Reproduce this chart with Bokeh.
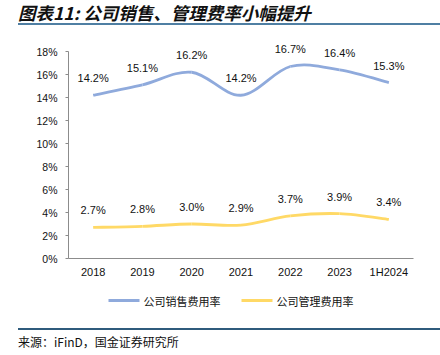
from bokeh.plotting import figure
from bokeh.layouts import column
from bokeh.models import (ColumnDataSource, LabelSet, Div,
                          FixedTicker, Range1d, CustomJSTickFormatter)
from bokeh.core.properties import value
from bokeh.embed import file_html
from bokeh.resources import INLINE

categories = ["2018", "2019", "2020", "2021", "2022", "2023", "1H2024"]
sales_rate = [14.2, 15.1, 16.2, 14.2, 16.7, 16.4, 15.3]
admin_rate = [2.7, 2.8, 3.0, 2.9, 3.7, 3.9, 3.4]
y_ticks = [0, 2, 4, 6, 8, 10, 12, 14, 16, 18]

title_text = "图表11: 公司销售、管理费率小幅提升"
source_text = "来源：iFinD，国金证券研究所"
sales_name = "公司销售费用率"
admin_name = "公司管理费用率"

BLUE = "#8FAADC"
YELLOW = "#FFD966"
LATIN = "Liberation Sans"
CJK = "Noto Sans CJK SC"
W = 440
HEAD_H, MAIN_H, LEG_H, FOOT_H = 30, 250, 38, 37
BL, BR = 68, 27

# ---- heading: text + rule ----
head = Div(width=W, height=HEAD_H, margin=0, styles={"overflow": "visible", "z-index": "10"},
           text=('<div style="display:block;margin:0 0 0 18px;padding:0;width:422px;height:23px;'
                 'line-height:26px;overflow:visible;font-family:\'Noto Sans CJK SC\';font-size:17.5px;'
                 'font-weight:bold;font-style:italic;color:#111;white-space:nowrap;">'
                 + title_text + '</div>'
                 '<div style="display:block;margin:0 0 0 18px;width:422px;height:2px;'
                 'background:#4F7FA3;"></div>'))

# ---- main chart ----
p = figure(width=W, height=MAIN_H, output_backend="svg", toolbar_location=None,
           x_range=Range1d(-0.5, len(categories) - 0.5), y_range=Range1d(0, 19.83),
           min_border_left=BL, min_border_right=BR, min_border_top=0, min_border_bottom=22)
p.outline_line_color = None
p.grid.grid_line_color = None
p.border_fill_color = None
p.background_fill_color = None

xs = list(range(len(categories)))

p.xaxis.ticker = FixedTicker(ticks=xs)
p.xaxis.major_label_overrides = {i: c for i, c in enumerate(categories)}
p.xaxis.major_tick_line_color = None
p.xaxis.major_tick_out = 0
p.xaxis.major_tick_in = 0
p.xaxis.minor_tick_line_color = None
p.xaxis.axis_line_color = "#8C8C8C"
p.xaxis.major_label_text_font = LATIN
p.xaxis.major_label_text_font_size = "11px"
p.xaxis.major_label_text_color = "#111111"
p.xaxis.major_label_standoff = 7

p.yaxis.ticker = FixedTicker(ticks=y_ticks)
p.yaxis.bounds = (0, 18)
p.yaxis.formatter = CustomJSTickFormatter(code="return tick.toFixed(0) + '%';")
p.yaxis.major_tick_out = 3
p.yaxis.major_tick_in = 0
p.yaxis.minor_tick_line_color = None
p.yaxis.axis_line_color = "#8C8C8C"
p.yaxis.major_tick_line_color = "#8C8C8C"
p.yaxis.major_label_text_font = LATIN
p.yaxis.major_label_text_font_size = "10.5px"
p.yaxis.major_label_text_color = "#111111"
p.yaxis.major_label_standoff = 8


def smooth(xv, yv):
    n = len(xv)
    d = dict(x0=[], y0=[], x1=[], y1=[], cx0=[], cy0=[], cx1=[], cy1=[])
    for i in range(n - 1):
        pm = i - 1 if i > 0 else i
        pn = i + 2 if i + 2 < n else i + 1
        d["x0"].append(xv[i]); d["y0"].append(yv[i])
        d["x1"].append(xv[i + 1]); d["y1"].append(yv[i + 1])
        d["cx0"].append(xv[i] + (xv[i + 1] - xv[pm]) / 6.0)
        d["cy0"].append(yv[i] + (yv[i + 1] - yv[pm]) / 6.0)
        d["cx1"].append(xv[i + 1] - (xv[pn] - xv[i]) / 6.0)
        d["cy1"].append(yv[i + 1] - (yv[pn] - yv[i]) / 6.0)
    return d


p.bezier(source=ColumnDataSource(smooth(xs, sales_rate)), x0="x0", y0="y0", x1="x1", y1="y1",
         cx0="cx0", cy0="cy0", cx1="cx1", cy1="cy1", line_color=BLUE, line_width=2.8)
p.bezier(source=ColumnDataSource(smooth(xs, admin_rate)), x0="x0", y0="y0", x1="x1", y1="y1",
         cx0="cx0", cy0="cy0", cx1="cx1", cy1="cy1", line_color=YELLOW, line_width=2.8)

for vals in (sales_rate, admin_rate):
    src = ColumnDataSource(dict(x=xs, y=vals, t=["%.1f%%" % v for v in vals]))
    p.add_layout(LabelSet(x="x", y="y", text="t", source=src, y_offset=17,
                          text_align="center", text_baseline="middle",
                          text_font=value(LATIN), text_font_size="11px", text_color="#111111"))

# ---- legend strip (frame 68..413, data units = page pixels) ----
leg = figure(width=W, height=LEG_H, output_backend="svg", toolbar_location=None,
             x_range=Range1d(BL, W - BR), y_range=Range1d(LEG_H, 0),
             min_border_left=BL, min_border_right=BR, min_border_top=0, min_border_bottom=0,
             x_axis_type=None, y_axis_type=None)
leg.outline_line_color = None
leg.grid.visible = False
leg.border_fill_color = None
leg.background_fill_color = None
leg.segment(x0=[108, 241], y0=[20, 20], x1=[139, 272], y1=[20, 20],
            line_color=[BLUE, YELLOW], line_width=2.8)
leg.text(x=[143, 276], y=[20, 20], text=[sales_name, admin_name], text_font=value(CJK),
         text_font_size="11px", text_color="#111111", text_baseline="middle")

# ---- source footer ----
foot = Div(width=W, height=FOOT_H, margin=0, styles={"overflow": "visible"},
           text=('<div style="display:block;margin:10px 0 0 18px;width:422px;height:1.5px;'
                 'background:#2F5B7C;"></div>'
                 '<div style="display:block;margin:3px 0 0 18px;width:422px;height:18px;'
                 'font-family:\'Noto Sans CJK SC\';font-size:12px;line-height:18px;color:#111;'
                 'white-space:nowrap;">' + source_text + '</div>'))

layout = column(head, p, leg, foot, spacing=0)
open("out.html", "w").write(file_html(layout, INLINE))
